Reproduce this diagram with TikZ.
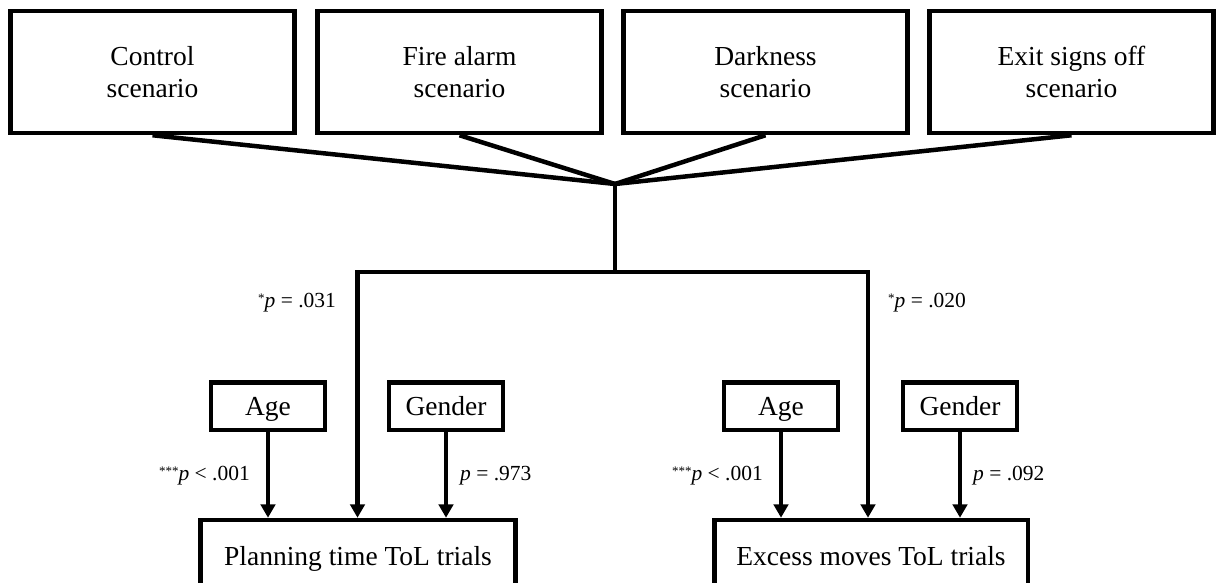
\documentclass[tikz,border=0pt]{standalone}
\usepackage{fontspec}
\setmainfont{Liberation Serif}
\usetikzlibrary{arrows.meta}
\newcommand\mystars[1]{\raisebox{5pt}{\fontsize{13}{13}\selectfont #1}}
\begin{document}
\begin{tikzpicture}[x=1pt,y=-1pt,
 box/.style={draw, line width=4.5pt, inner sep=0pt, align=center},
 topbox/.style={box, minimum width=284pt, minimum height=122pt, font=\fontsize{27.5}{32}\selectfont},
 covbox/.style={box, minimum width=114pt, minimum height=47.5pt, text depth=0pt, font=\fontsize{27.5}{32}\selectfont},
 outbox/.style={box, minimum height=72pt, text depth=0pt, font=\fontsize{27.5}{32}\selectfont},
 link/.style={line width=4.5pt},
 tip/.tip={Triangle[width=14.5pt,length=13.5pt]},
 arr/.style={line width=4.5pt, -tip},
 lab/.style={font=\fontsize{21.5}{24}\selectfont, inner sep=0pt}
]
\useasboundingbox (0,0) rectangle (1216,583);
\clip (0,0) rectangle (1216,583);

\node[topbox] (c1) at (152.5,72) {Control\\scenario};
\node[topbox] (c2) at (459.5,72) {Fire alarm\\scenario};
\node[topbox] (c3) at (765.5,72) {Darkness\\scenario};
\node[topbox] (c4) at (1071.5,72) {Exit signs off\\scenario};

\coordinate (j) at (615,184);
\coordinate (jb) at (615,272);
\coordinate (L) at (357.5,272);
\coordinate (R) at (868,272);

\node[outbox, minimum width=315pt] (p) at (358,556) {Planning time ToL trials};
\node[outbox, minimum width=313.5pt] (e) at (871,556) {Excess moves ToL trials};

\node[covbox] (a1) at (268,406) {Age};
\node[covbox] (g1) at (446,406) {Gender};
\node[covbox] (a2) at (781,406) {Age};
\node[covbox] (g2) at (960,406) {Gender};

\draw[link] (c1.south) -- (j);
\draw[link] (c2.south) -- (j);
\draw[link] (c3.south) -- (j);
\draw[link] (c4.south) -- (j);
\draw[link] (j) -- (jb);
\draw[line width=4.5pt, tip-tip] (L |- p.north) -- (L) -- (R) -- (R |- e.north);

\draw[arr] (a1.south) -- (a1.south |- p.north);
\draw[arr] (g1.south) -- (g1.south |- p.north);
\draw[arr] (a2.south) -- (a2.south |- e.north);
\draw[arr] (g2.south) -- (g2.south |- e.north);

\node[lab, anchor=base east] (l1) at (250,480) {\mystars{***}\textit{p} < .001};
\node[lab, anchor=base west] (l2) at (460,480) {\textit{p} = .973};
\node[lab, anchor=base east] (l3) at (763,480) {\mystars{***}\textit{p} < .001};
\node[lab, anchor=base west] (l4) at (973,480) {\textit{p} = .092};
\node[lab, anchor=base west] (l5) at (258,307) {\mystars{*}\textit{p} = .031};
\node[lab, anchor=base west] (l6) at (888,307) {\mystars{*}\textit{p} = .020};
\end{tikzpicture}
\end{document}
